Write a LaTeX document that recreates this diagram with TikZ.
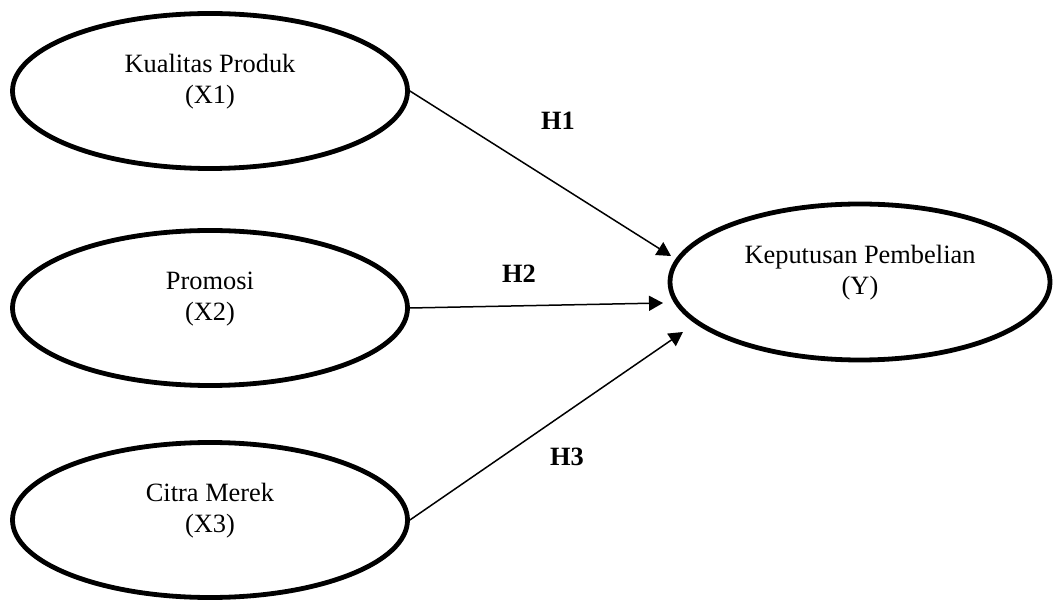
\documentclass[tikz,border=0pt]{standalone}
\usepackage{fontspec}
\setmainfont{Liberation Serif}
\usetikzlibrary{shapes.geometric,arrows.meta}
\begin{document}
\begin{tikzpicture}[x=0.5pt,y=-0.5pt,line cap=butt,line join=miter,>={Triangle[length=7pt,width=7.5pt]},
	var/.style={ellipse,draw,line width=2.4pt,inner sep=0pt,minimum width=197.5pt,minimum height=77.5pt,
		align=center,text depth=12pt,font=\fontsize{13.2}{15.5}\selectfont},
	hyp/.style={inner sep=0pt,font=\fontsize{13.2}{15.5}\selectfont\bfseries}]
	\useasboundingbox (0,0) rectangle (1053,603);
	\foreach \n/\t/\y in {1/Kualitas Produk/91,2/Promosi/308,3/Citra Merek/520}{
		\node[var] (x\n) at (210,\y) {\t\\(X\n)};
	}
	\node[var,minimum width=190pt,minimum height=78pt] (y) at (860,282) {Keputusan Pembelian\\(Y)};
	
	\coordinate (t1) at (671,256);
	\coordinate (t2) at (663,303);
	\coordinate (t3) at (683,332);
	\foreach \n in {1,2,3}{
		\draw[->,line width=0.75pt] (x\n.east) -- (t\n);
	}
	
	\node[hyp] (h1) at (558,121) {H1};
	\node[hyp] (h2) at (519,274) {H2};
	\node[hyp] (h3) at (567,457) {H3};
\end{tikzpicture}
\end{document}
